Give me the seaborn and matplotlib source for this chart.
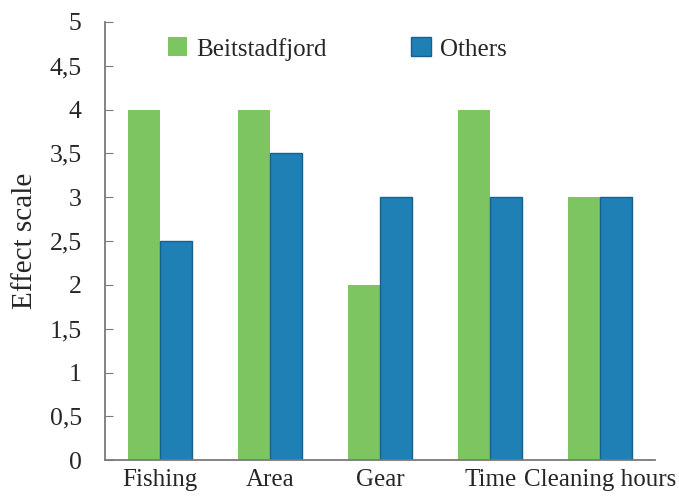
import matplotlib
matplotlib.use("Agg")
import matplotlib.pyplot as plt
import seaborn as sns
import pandas as pd

# Effect scores per aspect, for the fjord and for the other sites
categories = ["Fishing", "Area", "Gear", "Time", "Cleaning hours"]
beitstadfjord = [4, 4, 2, 4, 3]
others = [2.5, 3.5, 3, 3, 3]
series_names = ["Beitstadfjord", "Others"]
y_ticks = [0, 0.5, 1, 1.5, 2, 2.5, 3, 3.5, 4, 4.5, 5]
y_tick_labels = ["0", "0,5", "1", "1,5", "2", "2,5", "3", "3,5", "4", "4,5", "5"]

df = pd.DataFrame({
    "category": categories * 2,
    "value": beitstadfjord + others,
    "group": [series_names[0]] * len(categories) + [series_names[1]] * len(categories),
})

sns.set_theme(style="white")
plt.rcParams["font.family"] = ["Liberation Serif", "DejaVu Serif"]

fig = plt.figure(figsize=(6.79, 4.97), dpi=100)
ax = fig.add_axes([0.155, 0.074, 0.81, 0.882])

palette = {"Beitstadfjord": "#7cc561", "Others": "#1f80b6"}
sns.barplot(data=df, x="category", y="value", hue="group", order=categories,
            hue_order=series_names, palette=palette, width=0.58,
            saturation=1, ax=ax, legend=True)

for patch in ax.patches:
    fc = patch.get_facecolor()
    if fc[2] > 0.5:
        patch.set_edgecolor("#17618c")
        patch.set_linewidth(1.0)
    else:
        patch.set_edgecolor("#7cc561")
        patch.set_linewidth(0)

ax.set_xlim(-0.5, 4.5)
ax.set_ylim(0, 5)
ax.set_yticks(y_ticks)
ax.set_yticklabels(y_tick_labels, fontsize=18.5)
ax.tick_params(axis="y", direction="in", length=6, width=0.8, color="#7a7a7a",
               pad=17, left=True)
ax.tick_params(axis="x", length=0, pad=6)
for lab in ax.get_xticklabels():
    lab.set_fontsize(18)

ax.set_xlabel("")
ax.set_ylabel("Effect scale", fontsize=21, labelpad=8)

for side in ["top", "right"]:
    ax.spines[side].set_visible(False)
for side in ["left", "bottom"]:
    ax.spines[side].set_color("#7a7a7a")
    ax.spines[side].set_linewidth(1.3)

handles, labels = ax.get_legend_handles_labels()
ax.legend(handles, labels, loc="upper left", bbox_to_anchor=(0.247, 0.925),
          bbox_transform=fig.transFigure, ncol=2, frameon=False, fontsize=18,
          borderpad=0, borderaxespad=0,
          handlelength=0.78, handleheight=0.8, handletextpad=0.35,
          columnspacing=3.4)

fig.savefig("out.png", dpi=100)
